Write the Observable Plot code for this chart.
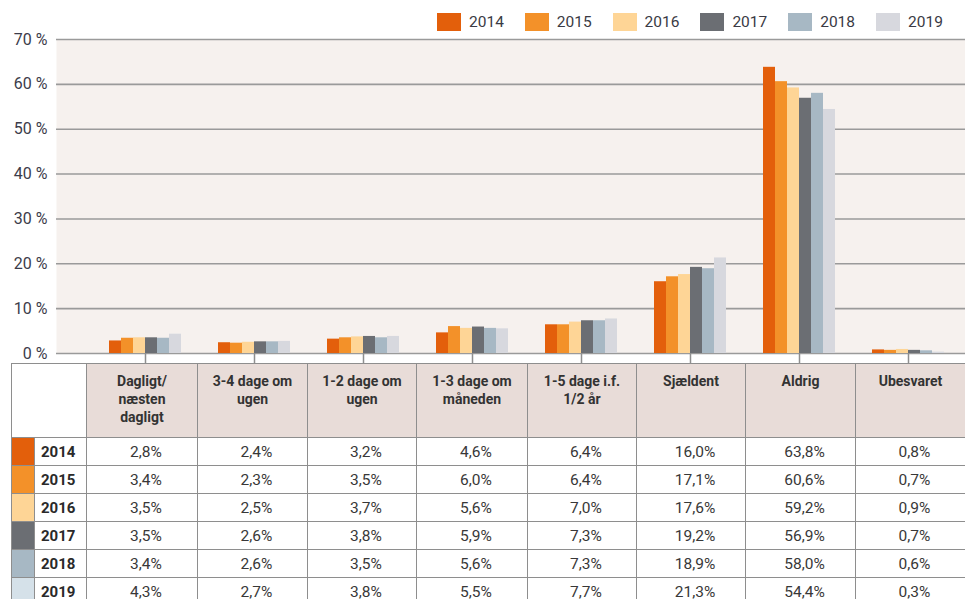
<!DOCTYPE html>
<html>
<head>
<meta charset="utf-8">
<script src="https://cdn.jsdelivr.net/npm/d3@7"></script>
<script src="https://cdn.jsdelivr.net/npm/@observablehq/plot@0.6"></script>
<style>
  html, body { margin: 0; padding: 0; background: #fff; }
  body { width: 965px; height: 599px; overflow: hidden; font-family: Roboto, "Noto Sans", sans-serif; color: #333; }
  #legend { position: relative; height: 31px; }
  .item { position: absolute; top: 13px; height: 18px; display: flex; align-items: center; }
  .sw { width: 24px; height: 18px; }
  .lt { margin-left: 8px; font-size: 15.5px; color: #3a3a44; }
  #chart svg { display: block; }
  table { margin-left: 11px; width: 954px; border-collapse: collapse; table-layout: fixed; }
  td, th { border: 1.5px solid #8e8e8e; padding: 0; }
  th { background: #e8dcd8; font-weight: bold; font-size: 14px; line-height: 18px; vertical-align: top; padding-top: 8px; white-space: pre-line; color: #333; text-align: center; }
  th.corner { background: #fff; }
  tr.head { height: 74px; }
  tr.row { height: 28px; }
  td.val { text-align: center; padding-left: 8px; font-size: 15.5px; color: #383838; }
  td.yr { font-weight: bold; font-size: 15px; padding-left: 6px; color: #2a2a2a; }
</style>
</head>
<body>
<div id="legend"></div>
<div id="chart"></div>
<div id="tablewrap"></div>
<script>
const categories = ["Dagligt/\nnæsten\ndagligt", "3-4 dage om\nugen", "1-2 dage om\nugen", "1-3 dage om\nmåneden", "1-5 dage i.f.\n1/2 år", "Sjældent", "Aldrig", "Ubesvaret"];
const years = ["2014", "2015", "2016", "2017", "2018", "2019"];
const v2014 = [2.8, 2.4, 3.2, 4.6, 6.4, 16.0, 63.8, 0.8];
const v2015 = [3.4, 2.3, 3.5, 6.0, 6.4, 17.1, 60.6, 0.7];
const v2016 = [3.5, 2.5, 3.7, 5.6, 7.0, 17.6, 59.2, 0.9];
const v2017 = [3.5, 2.6, 3.8, 5.9, 7.3, 19.2, 56.9, 0.7];
const v2018 = [3.4, 2.6, 3.5, 5.6, 7.3, 18.9, 58.0, 0.6];
const v2019 = [4.3, 2.7, 3.8, 5.5, 7.7, 21.3, 54.4, 0.3];
const series = [v2014, v2015, v2016, v2017, v2018, v2019];
const barColors = ["#e35f0b", "#f39129", "#fed596", "#6b6e73", "#a7b8c4", "#d7d8de"];
const tableSwatchColors = ["#e35f0b", "#f39129", "#fed596", "#6b6e73", "#a7b8c4", "#d5e1e9"];
const yTicks = [0, 10, 20, 30, 40, 50, 60, 70];

const rows = years.flatMap((yr, i) => categories.map((c, j) => ({category: c, year: yr, value: series[i][j]})));

// Legend
const legend = document.getElementById("legend");
years.forEach((yr, i) => {
  const it = document.createElement("div");
  it.className = "item";
  it.style.left = (437 + i * 87.8) + "px";
  it.innerHTML = `<div class="sw" style="background:${barColors[i]}"></div><div class="lt">${yr}</div>`;
  legend.appendChild(it);
});

// Chart
const barW = 12;
const chart = Plot.plot({
  width: 965,
  height: 332,
  marginTop: 8,
  marginBottom: 10,
  marginLeft: 56,
  marginRight: 0,
  style: {fontFamily: "Roboto, sans-serif", background: "transparent"},
  x: {type: "band", domain: categories, range: [89.4, 962.6], paddingInner: 0.89, paddingOuter: 0.445, axis: null},
  y: {domain: [0, 70], axis: null},
  marks: [
    Plot.frame({fill: "#f6f1ee", stroke: null}),
    Plot.gridY(yTicks, {stroke: "#9a9a9a", strokeOpacity: 1, strokeWidth: 1.6}),
    ...years.map((yr, i) => Plot.barY(rows.filter(d => d.year === yr), {
      x: "category", y: "value", fill: barColors[i], dx: (i - 2.5) * barW
    })),
    Plot.axisY(yTicks, {tickSize: 0, tickPadding: 9, tickFormat: d => `${d} %`, fontSize: 16, fill: "#3c3c4a", label: null}),
    Plot.axisX({tickSize: 10, tickFormat: () => "", stroke: "#8e8e8e", strokeWidth: 1.5, label: null})
  ]
});
document.getElementById("chart").appendChild(chart);

// Table
const colWidths = [23, 52, 111, 110, 109, 111, 109, 109, 110, 110];
let html = "<table><colgroup>" + colWidths.map(w => `<col style="width:${w}px">`).join("") + "</colgroup>";
html += `<tr class="head"><th class="corner" colspan="2"></th>` + categories.map(c => `<th>${c}</th>`).join("") + "</tr>";
years.forEach((yr, i) => {
  html += `<tr class="row"><td style="background:${tableSwatchColors[i]}"></td><td class="yr">${yr}</td>` +
    series[i].map(v => `<td class="val">${v.toFixed(1).replace(".", ",")}%</td>`).join("") + "</tr>";
});
html += "</table>";
document.getElementById("tablewrap").innerHTML = html;
</script>
</body>
</html>
